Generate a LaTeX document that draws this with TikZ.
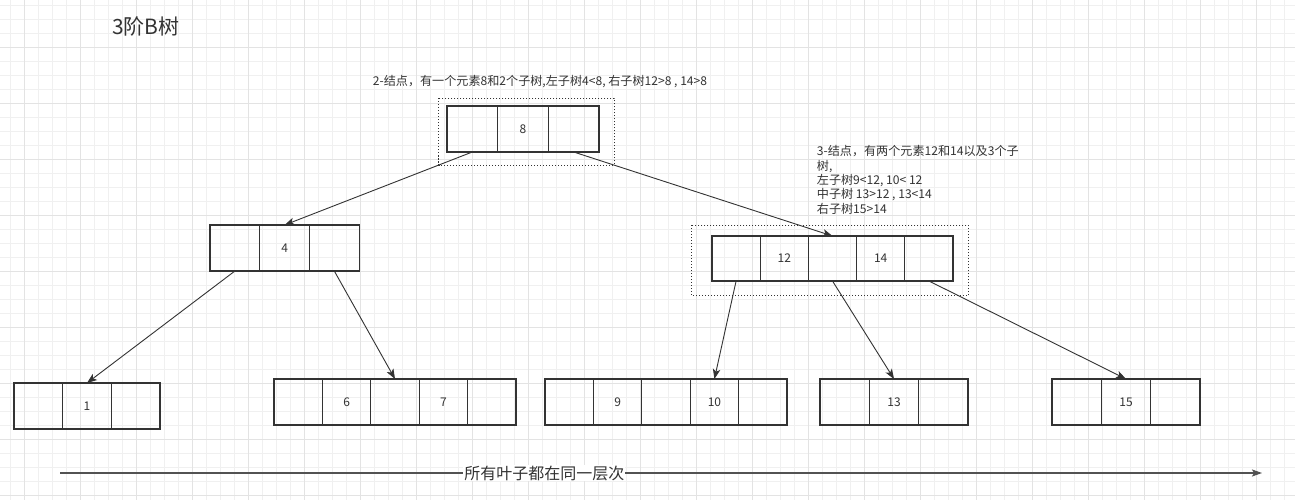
\documentclass[tikz,border=0pt]{standalone}
\usepackage{fontspec}
\setmainfont{Noto Sans CJK SC}
\usetikzlibrary{arrows.meta}
\definecolor{ink}{HTML}{333333}

\begin{document}
\begin{tikzpicture}[x=1pt, y=-1pt,
    cell/.style={draw=ink, line width=1.3pt, minimum height=46pt, inner sep=0pt,
      outer sep=0pt, text=ink, font=\fontsize{12}{14}\selectfont},
    edge/.style={draw=ink, line width=0.9pt, -{Stealth[length=10pt, width=7.5pt, inset=2.5pt]}},
    group/.style={draw=ink, line width=0.9pt, dash pattern=on 1.2pt off 1.8pt},
    note/.style={align=left, inner sep=0pt, text=ink, font=\fontsize{12.1}{14.3}\selectfont}]
    \useasboundingbox (0,0) rectangle (1295,500);
    % grid of the canvas
    \fill[white] (0,0) rectangle (1295,500);
    \foreach \g in {0,...,91} \draw[gray!12, line width=0.8pt] ({10.3+14*\g},0) -- ++(0,500);
    \foreach \g in {0,...,35} \draw[gray!12, line width=0.8pt] (0,{5.3+14*\g}) -- ++(1295,0);
    \foreach \g in {0,...,22} \draw[gray!22, line width=0.8pt] ({24.3+56*\g},0) -- ++(0,500);
    \foreach \g in {0,...,8} \draw[gray!22, line width=0.8pt] (0,{47.3+56*\g}) -- ++(1295,0);

    \node[anchor=west, inner sep=0pt, text=ink, font=\fontsize{21}{24}\selectfont] (title) at (112,27) {3阶B树};

    % dotted groups round the inner nodes
    \draw[group] (438.7,98.3) rectangle (614.3,165);
    \draw[group] (691.7,225) rectangle (968.3,295.7);

    % rows of cells
    \foreach \t [count=\i] in {{},8,{}}
      \node[cell, minimum width=50.7pt] (r\i) at ({472.3+50.7*(\i-1)},129) {\t};
    \foreach \t [count=\i] in {{},4,{}}
      \node[cell, minimum width=49.7pt] (a\i) at ({234.9+49.7*(\i-1)},248) {\t};
    \foreach \t [count=\i] in {{},12,{},14,{}}
      \node[cell, minimum width=48.2pt, minimum height=45pt] (b\i) at ({736.1+48.2*(\i-1)},258.5) {\t};
    \foreach \t [count=\i] in {{},1,{}}
      \node[cell, minimum width=48.7pt] (c\i) at ({38.3+48.7*(\i-1)},406) {\t};
    \foreach \t [count=\i] in {{},6,{},7,{}}
      \node[cell, minimum width=48.4pt] (d\i) at ({298.2+48.4*(\i-1)},402) {\t};
    \foreach \t [count=\i] in {{},9,{},10,{}}
      \node[cell, minimum width=48.4pt] (e\i) at ({569.2+48.4*(\i-1)},402) {\t};
    \foreach \t [count=\i] in {{},13,{}}
      \node[cell, minimum width=49.3pt] (f\i) at ({844.7+49.3*(\i-1)},402) {\t};
    \foreach \t [count=\i] in {{},15,{}}
      \node[cell, minimum width=49.3pt] (g\i) at ({1076.7+49.3*(\i-1)},402) {\t};

    \draw[edge] (r1.south) -- (a2.north);
    \draw[edge] (r3.south) -- (b3.north);
    \draw[edge] (a1.south) -- (c2.north);
    \draw[edge] (a3.south) -- (d3.north);
    \draw[edge] (b1.south) -- (e4.north);
    \draw[edge] (b3.south) -- (f2.north);
    \draw[edge] (b5.south) -- (g2.north);

    \node[note, anchor=west] (n2node) at (372.7,82) {2-结点，有一个元素8和2个子树,左子树4<8, 右子树12>8 , 14>8};
    \node[note, anchor=north west] (n3node) at (816.7,145.5)
      {3-结点，有两个元素12和14以及3个子\\树,\\左子树9<12, 10< 12\\中子树 13>12 , 13<14\\右子树15>14};

    \coordinate (lvl0) at (60,473);
    \coordinate (lvl1) at (1262,473);
    \draw[ink!85, line width=1.3pt, -{Stealth[length=10pt, width=7pt, inset=2pt]}] (lvl0) -- (lvl1)
      node[pos=0.403, fill=white, inner sep=1pt, text=ink, font=\fontsize{16}{18}\selectfont] (lvl) {所有叶子都在同一层次};
\end{tikzpicture}
\end{document}
